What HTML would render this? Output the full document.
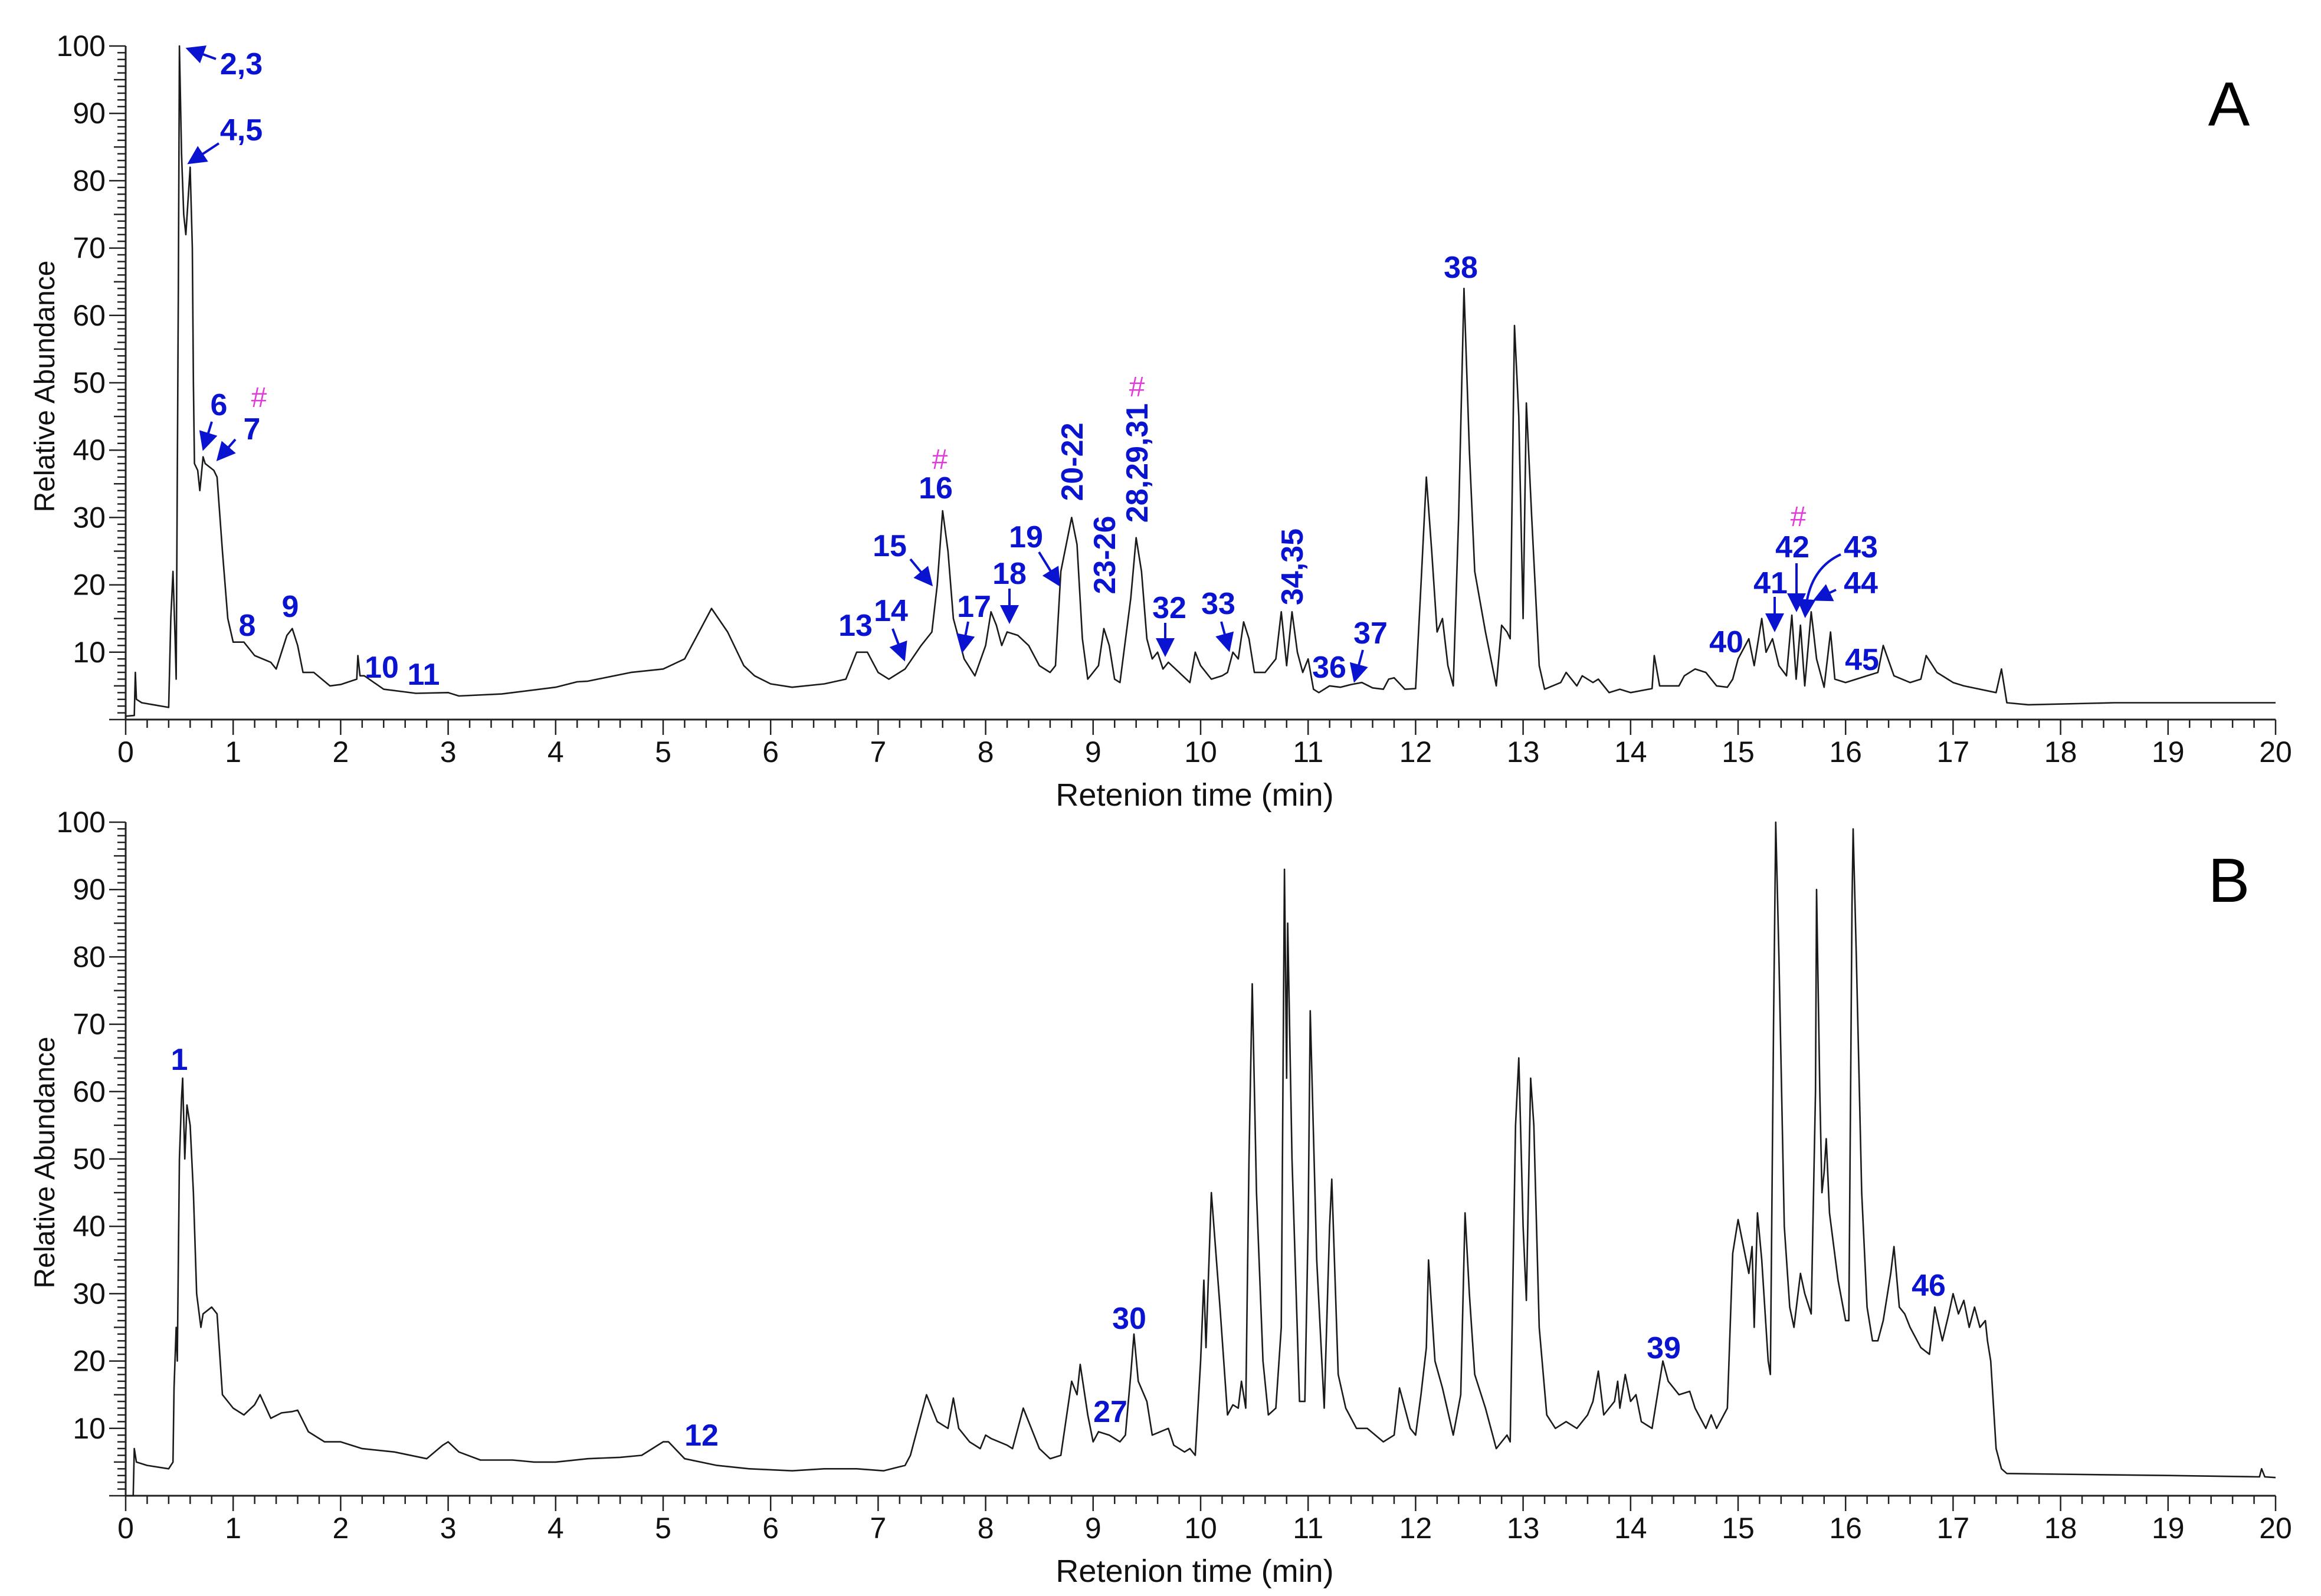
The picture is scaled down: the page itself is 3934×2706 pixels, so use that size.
<!DOCTYPE html>
<html><head><meta charset="utf-8"><style>
html,body{margin:0;padding:0;background:#fff;}
svg{display:block;}
text{font-family:"Liberation Sans",Arial,sans-serif;}
.tk{font-size:50px;fill:#111;}
.ttl{font-size:54px;fill:#111;}
.lb{font-size:52px;font-weight:bold;fill:#0a14d0;}
.hs{font-size:48px;fill:#e23ad8;}
</style></head><body>
<svg id="chart" width="3934" height="2706" viewBox="0 0 3934 2706" xmlns="http://www.w3.org/2000/svg">
<defs><marker id="ah" markerWidth="8" markerHeight="8" refX="6" refY="4" orient="auto" markerUnits="strokeWidth"><path d="M0,0 L8,4 L0,8 z" fill="#0a14d0"/></marker></defs>
<g id="gA"></g>
<g id="gB"></g>
</svg>
<script>
// Panel A data
const timesA=[0,0.08,0.09,0.1,0.15,0.4,0.42,0.44,0.46,0.47,0.49,0.5,0.52,0.54,0.56,0.6,0.62,0.63,0.64,0.67,0.69,0.72,0.74,0.82,0.85,0.9,0.95,1.0,1.1,1.2,1.35,1.4,1.5,1.55,1.6,1.65,1.75,1.9,2.0,2.15,2.16,2.18,2.22,2.4,2.7,3.0,3.1,3.5,4.0,4.2,4.3,4.7,5.0,5.2,5.3,5.45,5.6,5.75,5.85,6.0,6.2,6.5,6.7,6.8,6.9,7.0,7.1,7.25,7.4,7.5,7.55,7.6,7.65,7.7,7.8,7.9,8.0,8.05,8.1,8.15,8.2,8.3,8.4,8.5,8.6,8.65,8.7,8.8,8.85,8.9,8.95,9.05,9.1,9.15,9.2,9.25,9.35,9.4,9.45,9.5,9.55,9.6,9.65,9.7,9.8,9.9,9.95,10.0,10.1,10.2,10.25,10.3,10.35,10.4,10.45,10.5,10.6,10.7,10.75,10.8,10.85,10.9,10.95,11.0,11.05,11.1,11.2,11.3,11.4,11.5,11.6,11.7,11.75,11.8,11.9,12.0,12.05,12.1,12.15,12.2,12.25,12.3,12.35,12.4,12.45,12.5,12.55,12.65,12.75,12.8,12.85,12.88,12.92,12.96,13.0,13.03,13.08,13.15,13.2,13.35,13.4,13.5,13.55,13.65,13.7,13.8,13.9,14.0,14.2,14.22,14.27,14.45,14.5,14.6,14.7,14.8,14.9,14.95,15.0,15.1,15.15,15.22,15.26,15.32,15.38,15.45,15.5,15.54,15.58,15.62,15.68,15.73,15.8,15.86,15.9,16.0,16.2,16.3,16.35,16.45,16.6,16.7,16.75,16.85,17.0,17.1,17.4,17.45,17.5,17.7,18.5,19,20];
const valuesA=[0.5,0.6,7,3,2.5,1.8,15,22,12,6,64,100,84,75,72,82,70,50,38,37,34,39,38,37,36,25,15,11.5,11.5,9.5,8.5,7.5,12.5,13.5,11,7,7,5,5.2,6,9.5,6.5,6.5,4.5,3.9,4.0,3.5,3.8,4.8,5.6,5.7,7,7.5,9,12,16.5,13,8,6.5,5.3,4.8,5.3,6,10,10,7,6,7.5,11,13,20,31,25,15,9,6.5,11,16,14,11,13,12.5,11,8,7,8,22,30,26,12,6,8,13.5,11,6,5.5,18,27,22,12,9,10,7.5,8.5,7,5.5,10,8,6,6.5,7,10,9,14.5,12,7,7,9,16,8,16,10,7,9,4.5,4,5,4.8,5.2,5.5,4.7,4.5,6,6.2,4.5,4.6,20,36,25,13,15,8,5,30,64,40,22,13,5,14,13,12,58.5,45,15,47,30,8,4.5,5.5,7,5,6.5,5.5,6,4,4.5,4,4.6,9.5,5,5,6.5,7.5,7,5,4.8,6,9,12,8,15,10,12,8,6.5,15.5,6,14,5,16,9,4.8,13,6,5.5,6.5,7,11,6.5,5.5,6,9.5,7,5.5,5,4,7.5,2.5,2.2,2.5,2.5,2.5];
// Panel B data
const timesB=[0,0.07,0.08,0.1,0.2,0.4,0.44,0.45,0.47,0.48,0.5,0.52,0.53,0.55,0.57,0.6,0.63,0.66,0.7,0.72,0.8,0.85,0.9,1.0,1.1,1.2,1.25,1.35,1.45,1.55,1.6,1.7,1.85,2.0,2.2,2.5,2.8,2.95,3.0,3.1,3.3,3.6,3.8,4.0,4.3,4.6,4.8,5.0,5.05,5.2,5.5,5.8,6.2,6.5,6.8,7.05,7.25,7.3,7.4,7.45,7.55,7.65,7.7,7.75,7.85,7.95,8.0,8.05,8.2,8.25,8.35,8.4,8.5,8.6,8.7,8.8,8.85,8.88,8.95,9.0,9.05,9.15,9.25,9.3,9.35,9.38,9.42,9.5,9.55,9.7,9.75,9.85,9.9,9.95,10.0,10.03,10.05,10.1,10.18,10.25,10.3,10.35,10.38,10.42,10.45,10.48,10.52,10.58,10.63,10.7,10.75,10.78,10.8,10.81,10.85,10.92,10.97,11.0,11.02,11.08,11.15,11.2,11.22,11.28,11.35,11.45,11.55,11.7,11.8,11.85,11.95,12.0,12.05,12.1,12.12,12.18,12.25,12.35,12.42,12.46,12.5,12.55,12.65,12.75,12.85,12.88,12.93,12.96,13.0,13.03,13.07,13.1,13.15,13.22,13.3,13.4,13.5,13.6,13.65,13.7,13.75,13.85,13.88,13.9,13.95,14.0,14.05,14.1,14.2,14.3,14.35,14.45,14.55,14.6,14.7,14.75,14.8,14.9,14.95,15.0,15.05,15.1,15.13,15.15,15.18,15.22,15.28,15.3,15.33,15.35,15.38,15.43,15.48,15.52,15.58,15.62,15.68,15.72,15.73,15.76,15.78,15.8,15.82,15.85,15.93,16.0,16.03,16.06,16.07,16.1,16.15,16.2,16.25,16.3,16.35,16.42,16.45,16.5,16.55,16.6,16.7,16.78,16.83,16.9,16.96,17.0,17.05,17.1,17.15,17.2,17.25,17.3,17.32,17.35,17.4,17.45,17.5,18,19,19.85,19.87,19.9,20];
const valuesB=[0,0,7,5,4.5,4,5,16,25,20,50,59,62,50,58,55,45,30,25,27,28,27,15,13,12,13.5,15,11.5,12.3,12.5,12.7,9.5,8,8,7,6.5,5.5,7.5,8,6.5,5.3,5.3,5,5,5.5,5.7,6,8,8,5.5,4.5,4,3.7,4,4,3.7,4.5,6,12,15,11,10,14.5,10,8,7,9,8.5,7.5,7,13,11,7,5.5,6,17,15,19.5,12,8,9.5,9,8,9,18,24,17,14,9,10,7.5,6.5,7,6,20,32,22,45,28,12,13.5,13,17,13,50,76,45,20,12,13,25,93,62,85,50,14,14,40,72,35,13,40,47,18,13,10,10,8,9,16,10,9,15,22,35,20,16,9,15,42,30,18,13,7,9,8,55,65,40,29,62,55,25,12,10,11,10,12,14,18.5,12,14,17,13,18,14,15,11,10,20,17,15,15.5,13,10,12,10,13,36,41,37,33,37,25,42,35,20,18,70,100,80,40,28,25,33,30,27,60,90,60,45,48,53,42,32,26,26,88,99,80,45,28,23,23,26,33,37,28,27,25,22,21,28,23,27,30,27,29,25,28,25,26,23,20,7,4,3.3,3.2,3,2.8,4,2.8,2.7];
const yTicks=[10,20,30,40,50,60,70,80,90,100];
const xTicks=[0,1,2,3,4,5,6,7,8,9,10,11,12,13,14,15,16,17,18,19,20];

const NS="http://www.w3.org/2000/svg";
const X0=213,X1=3857;
function xs(t){return X0+(X1-X0)*t/20;}
function mk(tag,attrs,parent,txt){const e=document.createElementNS(NS,tag);for(const k in attrs)e.setAttribute(k,attrs[k]);if(txt!==undefined)e.textContent=txt;parent.appendChild(e);return e;}

function panel(g,y0,times,vals,letter,p){
  const ys=v=>y0-11.42*v;
  const ax=mk('path',{d:`M${X0},${ys(100)} L${X0},${y0} L${X1},${y0}`,stroke:'#222','stroke-width':3,fill:'none'},g);
  
  
  let d='';
  for(let v=0;v<=100;v++){const L=v%10===0?28:(v%5===0?20:14);d+=`M${X0-L},${ys(v)}H${X0}`;}
  for(let i=0;i<=100;i++){const t=i*0.2;const L=i%5===0?26:14;d+=`M${xs(t)},${y0}V${y0+L}`;}
  const tk=mk('path',{d:d,stroke:'#222','stroke-width':2.5,fill:'none'},g);
  
  
  yTicks.forEach(v=>{const e=mk('text',{x:X0-34,y:ys(v)+17,'text-anchor':'end',class:'tk'},g,String(v));
    
    });
  xTicks.forEach(v=>{const e=mk('text',{x:xs(v),y:y0+72,'text-anchor':'middle',class:'tk'},g,String(v));
    
    });
  const yt=mk('text',{x:0,y:0,transform:`translate(92,${ys(50)+6}) rotate(-90)`,'text-anchor':'middle',class:'ttl',style:'font-size:48px'},g,'Relative Abundance');
  
  
  const xt=mk('text',{x:2025,y:y0+146,'text-anchor':'middle',class:'ttl'},g,'Retenion time (min)');
  
  
  const pl=mk('text',{x:3778,y:ys(100)+135,'text-anchor':'middle',style:'font-size:106px',fill:'#000'},g,letter);
  
  
  let pd='';times.forEach((t,i)=>{pd+=(i?'L':'M')+xs(t).toFixed(1)+','+ys(vals[i]).toFixed(1);});
  const tr=mk('path',{d:pd,stroke:'#1a1a1a','stroke-width':2.6,fill:'none','stroke-linejoin':'round'},g);
  
  
}
const gA=document.getElementById('gA'),gB=document.getElementById('gB');
panel(gA,1220,timesA,valuesA,'A','panel-a');
panel(gB,2536,timesB,valuesB,'B','panel-b');

// annotations: [text,x,y,rotated,color]
const labsA=[["2,3",409,126],["4,5",409,238],["6",371,704],["7",427,745],["8",419,1078],["9",492,1046],["10",647,1149],["11",718,1161],["13",1450,1078],["14",1510,1053],["15",1508,943],["16",1586,845],["17",1651,1046],["18",1711,990],["19",1739,928],["32",1982,1048],["33",2065,1041],["36",2253,1149],["37",2323,1091],["38",2476,471],["40",2926,1106],["41",3001,1006],["42",3038,945],["43",3154,945],["44",3154,1006],["45",3156,1136]];
labsA.forEach(l=>{const e=mk('text',{x:l[1],y:l[2],'text-anchor':'middle',class:'lb'},gA,l[0]);
  
  });
const vlabs=[["20-22",1835,783],["23-26",1890,941],["28,29,31",1945,785],["34,35",2208,961]];
vlabs.forEach(l=>{const e=mk('text',{x:0,y:0,transform:`translate(${l[1]},${l[2]}) rotate(-90)`,'text-anchor':'middle',class:'lb'},gA,l[0]);
  
  });
const hashes=[[439,690],[1593,795],[1927,672],[3048,892]];
hashes.forEach(h=>{const e=mk('text',{x:h[0],y:h[1],'text-anchor':'middle',class:'hs'},gA,'#');
  
  });
const arrows=[[366,100,322,84],[371,243,324,274],[359,715,346,757],[399,745,372,776],[1513,1066,1531,1114],[1543,948,1576,988],[1641,1054,1632,1100],[1711,998,1711,1050],[1761,936,1793,988],[1975,1056,1975,1106],[2070,1054,2082,1098],[2310,1102,2297,1150],[3008,1012,3008,1064],[3045,955,3045,1030],[3112,1000,3080,1015]];
arrows.forEach(a=>{const e=mk('line',{x1:a[0],y1:a[1],x2:a[2],y2:a[3],stroke:'#0a14d0','stroke-width':4,'marker-end':'url(#ah)'},gA);
  
  });
const ca=mk('path',{d:'M3120,940 Q3065,965 3060,1040',stroke:'#0a14d0','stroke-width':4,fill:'none','marker-end':'url(#ah)'},gA);


const labsB=[["1",304,1814],["12",1189,2451],["27",1882,2411],["30",1914,2253],["39",2820,2303],["46",3269,2197]];
labsB.forEach(l=>{const e=mk('text',{x:l[1],y:l[2],'text-anchor':'middle',class:'lb'},gB,l[0]);
  
  });
</script>
</body></html>
